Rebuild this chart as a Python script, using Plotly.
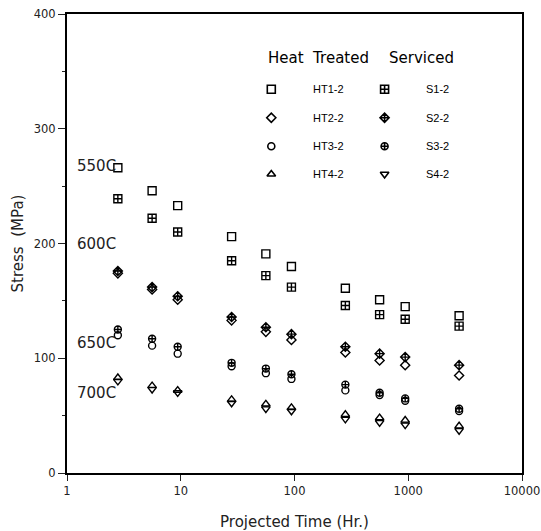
import plotly.graph_objects as go

# ---- data ----
time_hr = [2.8, 5.6, 9.4, 28, 56, 94, 280, 560, 940, 2800]

HT1_2 = [266, 246, 233, 206, 191, 180, 161, 151, 145, 137]
S1_2 = [239, 222, 210, 185, 172, 162, 146, 138, 134, 128]
HT2_2 = [174, 160, 151, 133, 123, 116, 105, 98, 94, 85]
S2_2 = [176, 162, 154, 136, 127, 121, 110, 104, 101, 94]
HT3_2 = [120, 111, 104, 93, 87, 82, 72, 68, 63, 54]
S3_2 = [125, 117, 110, 96, 91, 86, 77, 70, 65, 56]
HT4_2 = [83, 76, 72, 64, 60, 57, 51, 48, 46, 41]
S4_2 = [80, 73, 70, 61, 56, 54, 47, 44, 42, 37]

series_names = ["HT1-2", "S1-2", "HT2-2", "S2-2", "HT3-2", "S3-2", "HT4-2", "S4-2"]
series_values = [HT1_2, S1_2, HT2_2, S2_2, HT3_2, S3_2, HT4_2, S4_2]
series_symbols = ["square-open", "square-cross-open", "diamond-open", "diamond-cross-open",
                  "circle-open", "circle-cross-open", "triangle-up-open", "triangle-down-open"]
series_sizes = [8, 8, 7, 7, 7, 7, 7.5, 7.5]

x_tick_vals = [1, 10, 100, 1000, 10000]
x_tick_text = ["1", "10", "100", "1000", "10000"]
temp_labels = ["550C", "600C", "650C", "700C"]

fig = go.Figure()

for name, vals, sym, sz in zip(series_names, series_values, series_symbols, series_sizes):
    fig.add_trace(go.Scatter(
        x=time_hr, y=vals, mode="markers", name=name, showlegend=False,
        marker=dict(symbol=sym, size=sz, color="black", line=dict(color="black", width=1.4)),
    ))

# ---- hand-made legend (on an overlay axis spanning the plot area) ----
leg_col_x = [0.449, 0.698]
leg_row_y = [0.836, 0.774, 0.712, 0.651]
leg_text_x = [0.537, 0.785]
for i, (name, sym, sz) in enumerate(zip(series_names, series_symbols, series_sizes)):
    col = i % 2
    row = i // 2
    fig.add_trace(go.Scatter(
        x=[leg_col_x[col]], y=[leg_row_y[row]], xaxis="x2", yaxis="y2",
        mode="markers", showlegend=False, hoverinfo="skip",
        marker=dict(symbol=sym, size=sz, color="black", line=dict(color="black", width=1.6)),
    ))
    fig.add_annotation(x=leg_text_x[col], y=leg_row_y[row], xref="x2", yref="y2",
                       text=name, showarrow=False, xanchor="left", yanchor="middle",
                       font=dict(family="Liberation Sans, Arial", size=11, color="black"))

fig.add_annotation(x=0.437, y=0.9035, xref="x2", yref="y2", text="Heat&nbsp; Treated",
                   showarrow=False, xanchor="left", yanchor="middle",
                   font=dict(family="DejaVu Sans", size=15, color="black"))
fig.add_annotation(x=0.703, y=0.9035, xref="x2", yref="y2", text="Serviced",
                   showarrow=False, xanchor="left", yanchor="middle",
                   font=dict(family="DejaVu Sans", size=15, color="black"))

temp_y = [0.669, 0.499, 0.2826, 0.175]
for lab, yy in zip(temp_labels, temp_y):
    fig.add_annotation(x=0.0167, y=yy, xref="x2", yref="y2", text=lab, showarrow=False,
                       xanchor="left", yanchor="middle",
                       font=dict(family="DejaVu Sans", size=15, color="#222"))

axis_font = dict(family="DejaVu Sans", size=11.5, color="#222")
title_font = dict(family="DejaVu Sans", size=15, color="#222")
fig.update_layout(
    width=541, height=531,
    margin=dict(l=67, r=19, t=14, b=58, autoexpand=False),
    paper_bgcolor="white", plot_bgcolor="white",
    showlegend=False,
    xaxis=dict(
        type="log", range=[0, 4], tickvals=x_tick_vals, ticktext=x_tick_text,
        ticks="outside", ticklen=6, tickwidth=1, tickcolor="#222",
        showline=True, linewidth=2, linecolor="black", mirror=True,
        showgrid=False, zeroline=False, tickfont=axis_font,
        ticklabeloverflow="allow",
        title=dict(text="Projected Time (Hr.)", font=title_font, standoff=20),
    ),
    yaxis=dict(
        range=[0, 400], dtick=100, tick0=0,
        ticks="outside", ticklen=7, tickwidth=1, tickcolor="#222",
        minor=dict(dtick=50, ticks="outside", ticklen=3, tickcolor="#222"),
        showline=True, linewidth=2, linecolor="black", mirror=True,
        showgrid=False, zeroline=False, tickfont=axis_font,
        title=dict(text="Stress&nbsp; (MPa)", font=title_font, standoff=6),
    ),
    xaxis2=dict(overlaying="x", range=[0, 1], visible=False, fixedrange=True),
    yaxis2=dict(overlaying="y", range=[0, 1], visible=False, fixedrange=True),
)

fig.write_html("out.html")
